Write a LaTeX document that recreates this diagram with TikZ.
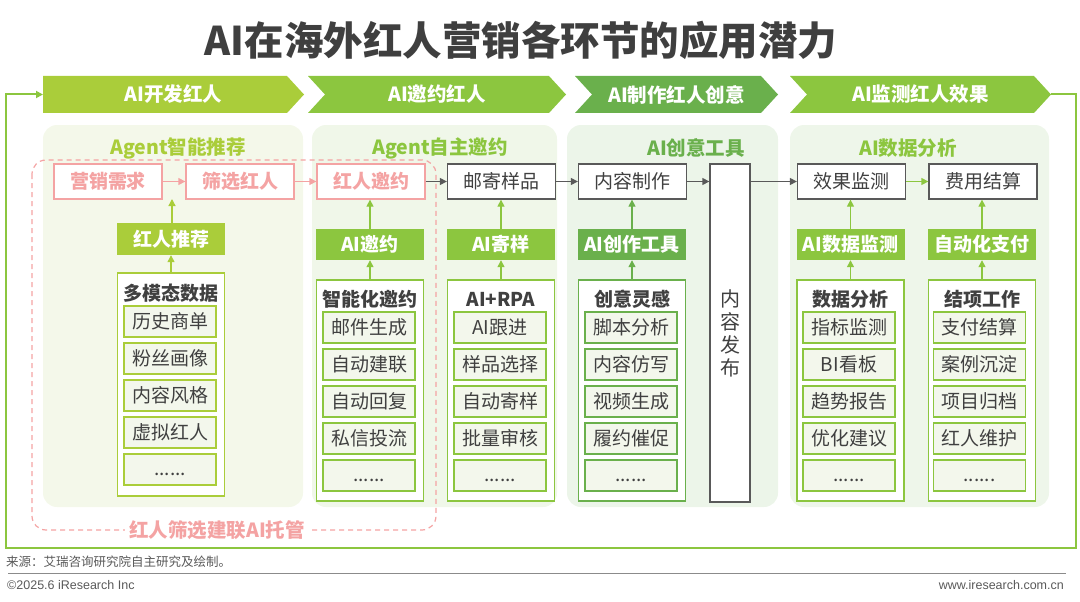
\documentclass[tikz,border=0pt]{standalone}
\usepackage{fontspec}
\setmainfont{Noto Sans CJK SC}
\newfontfamily\footfont{Liberation Sans}
\usepackage{tikz}
\usetikzlibrary{arrows.meta, positioning, calc}
\definecolor{ksyel}{HTML}{AACD3A}
\definecolor{ksgrn}{HTML}{8CC63F}
\definecolor{ksdark}{HTML}{6AB04C}
\definecolor{kspink}{HTML}{F4A3A3}
\definecolor{ksgray}{HTML}{595959}
\definecolor{kstext}{HTML}{404040}
\definecolor{kstitle}{HTML}{3F3F3F}
\definecolor{kspa}{HTML}{F4F8EA}
\definecolor{kspb}{HTML}{F0F7E9}
\definecolor{kspc}{HTML}{ECF5E9}
\definecolor{kspd}{HTML}{EEF6EA}
\definecolor{ksitem}{HTML}{F3F7EC}
\definecolor{ksfoot}{HTML}{595959}
\newcommand{\etcdots}{\raisebox{-6pt}[0pt][0pt]{......}}
\tikzset{
  chev/.style={font=\bfseries\fontsize{19.5}{19.5}\selectfont, text=white, inner sep=0pt},
  panel/.style={rounded corners=14pt},
  ptitle/.style={font=\bfseries\fontsize{19.5}{19.5}\selectfont, inner sep=0pt},
  rowbox/.style={rectangle, draw=ksgray, line width=1.3pt, fill=white, text=kstext,
              minimum width=108pt, minimum height=35pt, inner sep=0pt, font=\fontsize{19}{19}\selectfont},
  pinkbox/.style={rowbox, draw=kspink, text=kspink, font=\bfseries\fontsize{19}{19}\selectfont},
  tag/.style={rectangle, fill=#1, text=white, minimum width=108pt, minimum height=31pt,
              inner sep=0pt, font=\bfseries\fontsize{19}{19}\selectfont},
  listbox/.style={rectangle, draw=#1, line width=1.3pt, fill=white, minimum width=107pt, inner sep=0pt},
  itembox/.style={rectangle, draw=#1, line width=1.3pt, fill=ksitem, minimum width=92pt, minimum height=31pt,
              inner sep=0pt, text=kstext, font=\fontsize{19}{19}\selectfont},
  lhead/.style={text=kstext, inner sep=0pt, font=\bfseries\fontsize{19}{19}\selectfont},
  flow/.style={-{Triangle[length=7pt,width=7pt]}, line width=1.3pt, draw=#1},
}

\begin{document}
\begin{tikzpicture}[x=1pt, y=-1pt]
  \useasboundingbox (0,0) rectangle (1080,602);
  \node[font=\bfseries\fontsize{39.5}{39.5}\selectfont, text=kstitle] (title) at (521,40) {AI在海外红人营销各环节的应用潜力};

  % stage chevrons
  \foreach \xa/\xb/\nd/\col/\txt [count=\i] in {43/304/0/ksyel/AI开发红人, 308/566/17/ksgrn/AI邀约红人,
      575/778/17/ksdark/AI制作红人创意, 790/1051/17/ksgrn/AI监测红人效果} {
    \fill[\col] (\xa,76) -- ({\xb-17},76) -- (\xb,94.5) -- ({\xb-17},113) -- (\xa,113) -- ({\xa+\nd},94.5) -- cycle;
    \node[chev] (stage\i) at ({(\xa+\xb)/2},94.5) {\txt};
  }
  \coordinate (loopout) at (1051,94.5);
  \coordinate (loopin) at (43,94.5);
  \draw[flow=ksgrn, line width=2pt] (loopout) -- (1076,94.5) -- (1076,548) -- (6,548) -- (6,94.5) -- (loopin);

  % panels
  \fill[kspa, panel] (43,125) rectangle (303,507);
  \fill[kspb, panel] (312,125) rectangle (557,507);
  \fill[kspc, panel] (567,125) rectangle (778,507);
  \fill[kspd, panel] (790,125) rectangle (1049,507);
  \node[ptitle, text=ksyel] (ta) at (178,148) {Agent智能推荐};
  \node[ptitle, text=ksgrn] (tb) at (440,148) {Agent自主邀约};
  \node[ptitle, text=ksdark] (tc) at (696,148) {AI创意工具};
  \node[ptitle, text=ksgrn] (td) at (908,148) {AI数据分析};

  \draw[kspink, line width=1.2pt, dash pattern=on 5pt off 4pt, rounded corners=14pt] (32,160) rectangle (436,530);
  \node[fill=white, text=kspink, inner sep=4pt, font=\bfseries\fontsize{19.5}{19.5}\selectfont] (host) at (217,530) {红人筛选建联AI托管};

  % main row
  \node[pinkbox] (need) at (108,181.5) {营销需求};
  \node[pinkbox] (pick) at (240,181.5) {筛选红人};
  \node[pinkbox] (invite) at (371,181.5) {红人邀约};
  \node[rowbox] (mail) at (501.5,181.5) {邮寄样品};
  \node[rowbox] (make) at (632.5,181.5) {内容制作};
  \node[rowbox, minimum width=40pt, minimum height=338pt, align=center, font=\fontsize{20}{23}\selectfont] (publish) at (730,333) {内\\容\\发\\布};
  \node[rowbox] (watch) at (851.5,181.5) {效果监测};
  \node[rowbox] (settle) at (983,181.5) {费用结算};
  \draw[flow=kspink] (need) -- (pick);
  \draw[flow=kspink] (pick) -- (invite);
  \draw[flow=ksgray] (invite) -- (mail);
  \draw[flow=ksgray] (mail) -- (make);
  \draw[flow=ksgray] (make) -- (make.east -| publish.west);
  \draw[flow=ksgray] (watch.west -| publish.east) -- (watch);
  \draw[flow=ksgrn] (watch) -- (settle);

  % AI tags
  \node[tag=ksyel, minimum height=32pt] (rec) at (171,239) {红人推荐};
  \node[tag=ksgrn] (aiinv) at (370,244.5) {AI邀约};
  \node[tag=ksgrn] (aimail) at (501,244.5) {AI寄样};
  \node[tag=ksdark] (aitool) at (632,244.5) {AI创作工具};
  \node[tag=ksgrn] (aidata) at (850.5,244.5) {AI数据监测};
  \node[tag=ksgrn] (aipay) at (982,244.5) {自动化支付};
  \coordinate (recto) at (172,199);
  \draw[flow=ksyel] (rec.north -| recto) -- (recto);
  \draw[flow=ksgrn] (aiinv) -- (aiinv |- invite.south);
  \draw[flow=ksgrn] (aimail) -- (aimail |- mail.south);
  \draw[flow=ksdark] (aitool) -- (aitool |- make.south);
  \draw[flow=ksgrn] (aidata) -- (aidata |- watch.south);
  \draw[flow=ksgrn] (aipay) -- (aipay |- settle.south);

  % lists
  \node[listbox=ksyel, minimum height=223pt] (lista) at (171,384.5) {};
  \node[lhead] at (171,293) {多模态数据};
  \foreach \t [count=\i] in {历史商单,粉丝画像,内容风格,虚拟红人,\etcdots}
    \node[itembox=ksyel] (la\i) at (170,{321.5+37*(\i-1)}) {\t};
  \node[listbox=ksgrn, minimum height=221pt] (listb) at (370,390.5) {};
  \node[lhead] at (370,299) {智能化邀约};
  \foreach \t [count=\i] in {邮件生成,自动建联,自动回复,私信投流,\etcdots}
    \node[itembox=ksgrn] (lb\i) at (369,{327.5+37*(\i-1)}) {\t};
  \node[listbox=ksgrn, minimum height=221pt] (listc) at (501,390.5) {};
  \node[lhead] at (501,299) {AI+RPA};
  \foreach \t [count=\i] in {AI跟进,样品选择,自动寄样,批量审核,\etcdots}
    \node[itembox=ksgrn] (lc\i) at (500,{327.5+37*(\i-1)}) {\t};
  \node[listbox=ksdark, minimum height=221pt] (listd) at (632,390.5) {};
  \node[lhead] at (632,299) {创意灵感};
  \foreach \t [count=\i] in {脚本分析,内容仿写,视频生成,履约催促,\etcdots}
    \node[itembox=ksdark] (ld\i) at (631,{327.5+37*(\i-1)}) {\t};
  \node[listbox=ksgrn, minimum height=221pt] (liste) at (850.5,390.5) {};
  \node[lhead] at (850.5,299) {数据分析};
  \foreach \t [count=\i] in {指标监测,BI看板,趋势报告,优化建议,\etcdots}
    \node[itembox=ksgrn] (le\i) at (849,{327.5+37*(\i-1)}) {\t};
  \node[listbox=ksgrn, minimum height=221pt] (listf) at (982,390.5) {};
  \node[lhead] at (982,299) {结项工作};
  \foreach \t [count=\i] in {支付结算,案例沉淀,项目归档,红人维护,\etcdots}
    \node[itembox=ksgrn] (lf\i) at (979.5,{327.5+37*(\i-1)}) {\t};
  \draw[flow=ksyel] (lista) -- (rec);
  \draw[flow=ksgrn] (listb) -- (aiinv);
  \draw[flow=ksgrn] (listc) -- (aimail);
  \draw[flow=ksdark] (listd) -- (aitool);
  \draw[flow=ksgrn] (liste) -- (aidata);
  \draw[flow=ksgrn] (listf) -- (aipay);

  % footer
  \node[anchor=west, inner sep=0pt, text=ksfoot, font=\fontsize{12.5}{12.5}\selectfont] (src) at (6,562) {来源：艾瑞咨询研究院自主研究及绘制。};
  \draw[ksfoot!70, line width=1pt] (8,573) -- (1066,573);
  \node[anchor=west, inner sep=0pt, text=ksfoot, font=\footfont\fontsize{12.5}{12.5}\selectfont] (copy) at (7,585) {©2025.6 iResearch Inc};
  \node[anchor=east, inner sep=0pt, text=ksfoot, font=\footfont\fontsize{12.5}{12.5}\selectfont] (web) at (1064,585) {www.iresearch.com.cn};
\end{tikzpicture}
\end{document}
